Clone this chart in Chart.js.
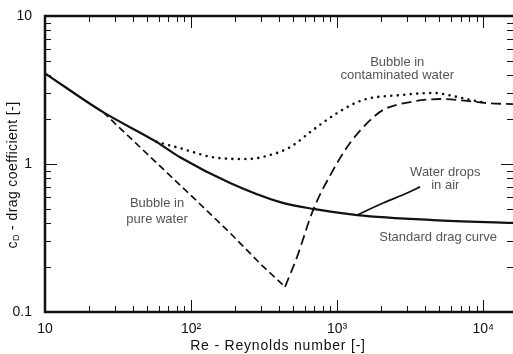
<!DOCTYPE html>
<html>
<head>
<meta charset="utf-8">
<script src="https://cdn.jsdelivr.net/npm/chart.js@4"></script>
<style>
  html, body { margin: 0; padding: 0; background: #fff; }
</style>
</head>
<body>
<canvas id="chart_1" width="513" height="354"></canvas>
<script>
// values (Re, cD)
var stdRe = [10, 25, 58, 84, 185, 407, 685, 1370, 4550, 16000];
var stdCd = [4.1, 2.24, 1.41, 1.11, 0.745, 0.553, 0.497, 0.452, 0.418, 0.40];

var pureFallRe = [25, 110, 185, 311, 440];
var pureFallCd = [2.24, 0.56, 0.342, 0.203, 0.148];
var pureRiseRe = [440, 532, 685, 939, 1228, 1604, 2065, 3162, 5073, 7762, 10640, 16000];
var pureRiseCd = [0.148, 0.236, 0.489, 0.91, 1.39, 1.89, 2.32, 2.62, 2.75, 2.67, 2.58, 2.54];

var contRe = [58, 84, 142, 242, 348, 477, 685, 1000, 1508, 2700, 4550, 6640, 8150, 10640];
var contCd = [1.41, 1.28, 1.11, 1.08, 1.15, 1.30, 1.70, 2.21, 2.71, 2.92, 3.02, 2.84, 2.71, 2.58];

var dropRe = [1370, 2065, 3013, 3700];
var dropCd = [0.452, 0.545, 0.637, 0.70];

var xTickLabels = { 1: "10", 2: "10\u00b2", 3: "10\u00b3", 4: "10\u2074" };
var yTickLabels = { "-1": "0.1", 0: "1", 1: "10" };

var xMin = 10, xMax = 16000, yMin = 0.1, yMax = 10;

function pts(xs, ys) {
  return xs.map(function (x, i) { return { x: x, y: ys[i] }; });
}

// 1..9 x 10^n inside the range
function logTicks(min, max) {
  var out = [];
  for (var e = Math.floor(Math.log10(min)); e <= Math.ceil(Math.log10(max)); e++) {
    for (var m = 1; m <= 9; m++) {
      var v = m * Math.pow(10, e);
      if (v >= min * 0.999 && v <= max * 1.001) out.push({ value: v });
    }
  }
  return out;
}

function isMajor(v) {
  var l = Math.log10(v);
  return Math.abs(l - Math.round(l)) < 1e-6;
}

var ink = "#111";

var curveLabels = [
  { re: 2580, cd: 4.89, text: "Bubble in" },
  { re: 2580, cd: 3.94, text: "contaminated water" },
  { re: 5500, cd: 0.883, text: "Water drops" },
  { re: 5500, cd: 0.721, text: "in air" },
  { re: 58.5, cd: 0.545, text: "Bubble in" },
  { re: 58.5, cd: 0.425, text: "pure water" },
  { re: 4920, cd: 0.321, text: "Standard drag curve" },
];

const ctx = document.getElementById("chart_1");

var myChart = new Chart(ctx, {
  type: "line",
  data: {
    datasets: [
      {
        label: "Standard drag curve",
        data: pts(stdRe, stdCd),
        borderColor: ink,
        borderWidth: 2.2,
        cubicInterpolationMode: "monotone",
      },
      {
        label: "Bubble in pure water",
        data: pts(pureFallRe, pureFallCd),
        borderColor: ink,
        borderWidth: 1.7,
        borderDash: [7, 4],
        tension: 0,
      },
      {
        label: "Bubble in pure water (rise)",
        data: pts(pureRiseRe, pureRiseCd),
        borderColor: ink,
        borderWidth: 1.8,
        borderDash: [10, 5],
        cubicInterpolationMode: "monotone",
      },
      {
        label: "Bubble in contaminated water",
        data: pts(contRe, contCd),
        borderColor: ink,
        borderWidth: 2.6,
        borderDash: [0, 6.5],
        borderCapStyle: "round",
        cubicInterpolationMode: "monotone",
      },
      {
        label: "Water drops in air",
        data: pts(dropRe, dropCd),
        borderColor: ink,
        borderWidth: 1.8,
        cubicInterpolationMode: "monotone",
      },
    ],
  },
  options: {
    responsive: false,
    animation: false,
    events: [],
    elements: { point: { radius: 0 } },
    layout: { padding: { top: 16, right: 0, left: 0, bottom: 0 } },
    plugins: {
      legend: { display: false },
      tooltip: { enabled: false },
    },
    scales: {
      x: {
        type: "logarithmic",
        min: xMin,
        max: xMax,
        afterBuildTicks: function (scale) { scale.ticks = logTicks(xMin, xMax); },
        afterFit: function (scale) { scale.height = 42; scale.paddingLeft = 0; scale.paddingRight = 0; },
        grid: { display: false },
        border: { display: false },
        ticks: {
          autoSkip: false,
          maxRotation: 0,
          padding: 1,
          color: "#111",
          font: { family: "Liberation Sans", size: 14 },
          callback: function (value) {
            if (!isMajor(value)) return "";
            return xTickLabels[Math.round(Math.log10(value))] || "";
          },
        },
      },
      y: {
        type: "logarithmic",
        min: yMin,
        max: yMax,
        afterBuildTicks: function (scale) { scale.ticks = logTicks(yMin, yMax); },
        afterFit: function (scale) { scale.width = 45; },
        grid: { display: false },
        border: { display: false },
        ticks: {
          autoSkip: false,
          padding: 5,
          color: "#111",
          font: { family: "Liberation Sans", size: 14 },
          callback: function (value) {
            if (!isMajor(value)) return "";
            return yTickLabels[Math.round(Math.log10(value))] || "";
          },
        },
      },
    },
  },
  plugins: [
    {
      id: "frameAndTicks",
      afterDraw: function (chart) {
        var c = chart.ctx;
        var a = chart.chartArea;
        var xs = chart.scales.x, ys = chart.scales.y;
        c.save();
        c.strokeStyle = ink;
        // inward ticks
        c.lineWidth = 1;
        c.beginPath();
        xs.ticks.forEach(function (t) {
          var px = Math.round(xs.getPixelForValue(t.value)) + 0.5;
          var len = isMajor(t.value) ? 12 : 6;
          c.moveTo(px, a.bottom); c.lineTo(px, a.bottom - len);
          c.moveTo(px, a.top); c.lineTo(px, a.top + len);
        });
        ys.ticks.forEach(function (t) {
          var py = Math.round(ys.getPixelForValue(t.value)) + 0.5;
          var len = isMajor(t.value) ? 12 : 6;
          c.moveTo(a.left, py); c.lineTo(a.left + len, py);
          c.moveTo(a.right, py); c.lineTo(a.right - len, py);
        });
        c.stroke();
        // frame
        c.lineWidth = 2.5;
        c.beginPath();
        c.moveTo(a.right, a.top); c.lineTo(a.left, a.top);
        c.lineTo(a.left, a.bottom); c.lineTo(a.right, a.bottom);
        c.stroke();

        // curve labels
        c.fillStyle = "#555";
        c.font = "13px 'Liberation Sans'";
        c.textAlign = "center";
        c.textBaseline = "middle";
        curveLabels.forEach(function (l) {
          c.fillText(l.text, xs.getPixelForValue(l.re), ys.getPixelForValue(l.cd));
        });

        // axis titles (slightly spaced out like the original)
        c.fillStyle = "#111";
        c.font = "14px 'Liberation Sans'";
        c.letterSpacing = "0.8px";
        c.fillText("Re - Reynolds number [-]", 278, 346);

        c.letterSpacing = "0.4px";
        var main = " - drag coefficient [-]";
        var wc = c.measureText("c").width;
        var wm = c.measureText(main).width;
        c.font = "9px 'Liberation Sans'";
        var wd = c.measureText("D").width;
        var total = wc + wd + wm;
        c.translate(13, 175);
        c.rotate(-Math.PI / 2);
        c.textAlign = "left";
        c.textBaseline = "middle";
        var sx = -total / 2;
        c.font = "14px 'Liberation Sans'";
        c.fillText("c", sx, 0);
        c.font = "9px 'Liberation Sans'";
        c.fillText("D", sx + wc, 4);
        c.font = "14px 'Liberation Sans'";
        c.fillText(main, sx + wc + wd, 0);
        c.restore();
      },
    },
  ],
});
</script>
</body>
</html>
